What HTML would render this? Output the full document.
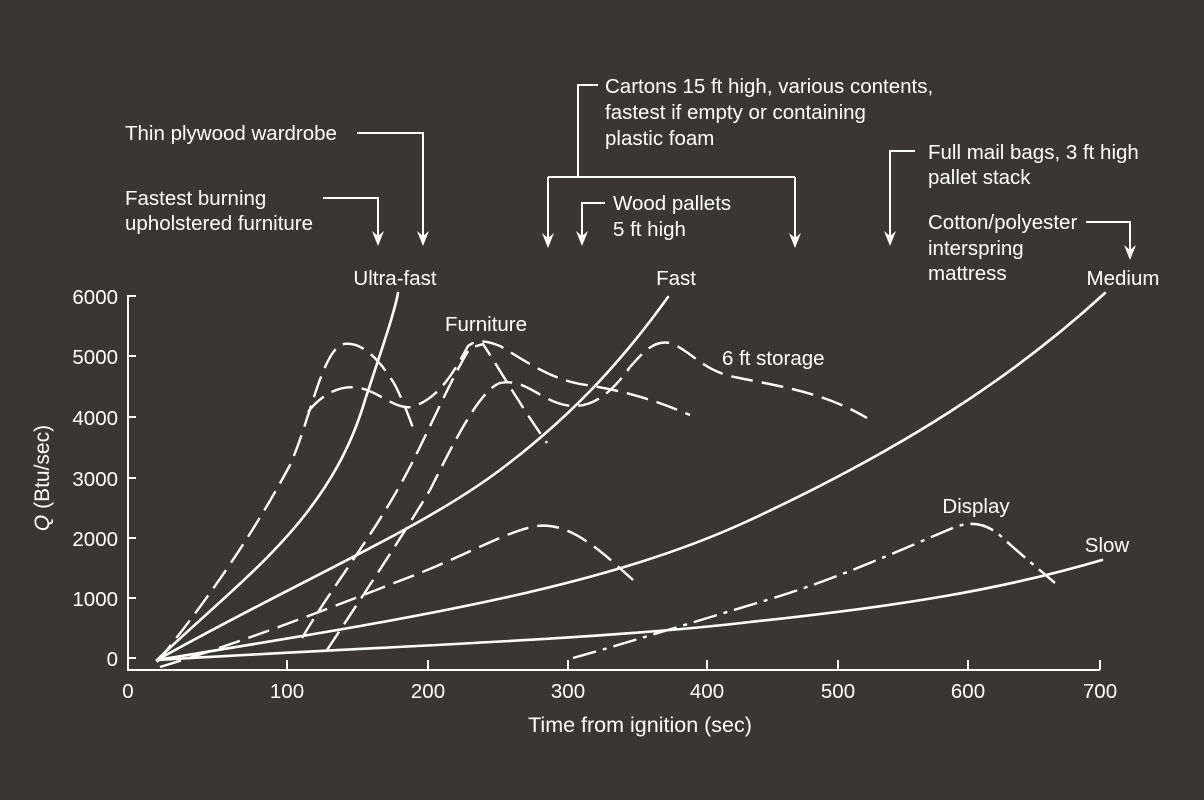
<!DOCTYPE html>
<html><head><meta charset="utf-8"><style>
html,body{margin:0;padding:0;background:#3a3634;}
svg{display:block}
text{font-family:"Liberation Sans",Arial,sans-serif;fill:#fff;font-size:20.5px}
</style></head><body>
<svg width="1204" height="800" viewBox="0 0 1204 800" xmlns="http://www.w3.org/2000/svg">
<rect width="1204" height="800" fill="#3a3634"/>
<g stroke="#fff" stroke-width="2" fill="none">
<path d="M136,296 H128 V670 H1100"/>
<path d="M128,356 h8 M128,417 h8 M128,478 h8 M128,538 h8 M128,598 h8 M128,658 h8"/>
<path d="M287,670 v-10 M428,670 v-10 M568,670 v-10 M707,670 v-10 M838,670 v-10 M968,670 v-10 M1100,670 v-10"/>
</g>
<g stroke="#fff" stroke-width="2.6" fill="none" stroke-linejoin="round" stroke-linecap="round">
<path d="M157,660 C240,580 330,520 365,400 C385,340 395,310 398,293"/>
<path d="M157,660 C300,580 420,530 500,470 C580,410 630,350 668,297"/>
<path d="M157,660 C400,620 600,590 750,520 C900,450 1010,380 1105,293"/>
<path d="M157,660 C350,648 600,640 750,622 C900,606 1000,590 1102,560"/>
</g>
<g stroke="#fff" stroke-width="2.4" fill="none" stroke-linecap="butt" stroke-dasharray="22,9">
<path d="M157,662 C200,610 250,540 290,465 C310,420 320,360 340,345 C360,338 380,360 395,385 C405,405 410,420 415,433"/>
<path d="M308,412 C325,390 345,385 360,388 C380,392 395,410 412,407 C440,398 455,370 468,346 C478,338 490,342 500,346 C530,364 550,378 580,384 C620,390 650,398 690,415"/>
<path d="M302,638 C330,590 370,540 403,480 C425,440 450,380 470,348 L483,344 C500,370 520,405 547,443"/>
<path d="M327,650 C360,600 400,540 430,490 C455,440 480,390 500,383 C525,378 540,400 565,405 C590,410 610,395 630,367 C645,350 655,340 670,343 C690,350 700,368 730,376 C770,385 820,390 867,418"/>
<path d="M160,667 C250,640 350,600 420,573 C470,553 510,530 537,526 C570,522 600,550 633,580"/>
</g>
<path d="M573,658 C620,645 700,620 767,600 C840,578 900,550 955,527 C975,520 990,525 1005,540 C1025,558 1040,570 1055,583" stroke="#fff" stroke-width="2.4" fill="none" stroke-dasharray="24,7,4,7"/>
<g stroke="#fff" stroke-width="2" fill="none">
<path d="M357,133 H423 V236"/>
<path d="M323,198 H378 V236"/>
<path d="M598,85 H578 V177"/>
<path d="M548,177 H795"/>
<path d="M548,177 V238"/>
<path d="M795,177 V238"/>
<path d="M605,203 H582 V236"/>
<path d="M915,151 H890 V236"/>
<path d="M1086,222 H1130 V250"/>
</g>
<g fill="#fff">
<path d="M417,231 L423,236 L429,231 L423,246 Z"/>
<path d="M372,231 L378,236 L384,231 L378,246 Z"/>
<path d="M542,233 L548,238 L554,233 L548,248 Z"/>
<path d="M789,233 L795,238 L801,233 L795,248 Z"/>
<path d="M576,231 L582,236 L588,231 L582,246 Z"/>
<path d="M884,231 L890,236 L896,231 L890,246 Z"/>
<path d="M1124,245 L1130,250 L1136,245 L1130,260 Z"/>
</g>
<text x="125" y="140">Thin plywood wardrobe</text>
<text x="125" y="205">Fastest burning</text>
<text x="125" y="230">upholstered furniture</text>
<text x="605" y="93">Cartons 15 ft high, various contents,</text>
<text x="605" y="119">fastest if empty or containing</text>
<text x="605" y="145">plastic foam</text>
<text x="613" y="210">Wood pallets</text>
<text x="613" y="236">5 ft high</text>
<text x="928" y="159">Full mail bags, 3 ft high</text>
<text x="928" y="184">pallet stack</text>
<text x="928" y="229">Cotton/polyester</text>
<text x="928" y="255">interspring</text>
<text x="928" y="280">mattress</text>
<text x="395" y="285" text-anchor="middle">Ultra-fast</text>
<text x="676" y="285" text-anchor="middle">Fast</text>
<text x="1123" y="285" text-anchor="middle">Medium</text>
<text x="486" y="331" text-anchor="middle">Furniture</text>
<text x="722" y="365">6 ft storage</text>
<text x="976" y="513" text-anchor="middle">Display</text>
<text x="1107" y="552" text-anchor="middle">Slow</text>
<g text-anchor="end">
<text x="118" y="304">6000</text><text x="118" y="364">5000</text><text x="118" y="425">4000</text>
<text x="118" y="486">3000</text><text x="118" y="546">2000</text><text x="118" y="606">1000</text>
<text x="118" y="666">0</text>
</g>
<g text-anchor="middle">
<text x="128" y="698">0</text><text x="287" y="698">100</text><text x="428" y="698">200</text>
<text x="568" y="698">300</text><text x="707" y="698">400</text><text x="838" y="698">500</text>
<text x="968" y="698">600</text><text x="1100" y="698">700</text>
<text x="640" y="732" style="font-size:21.5px">Time from ignition (sec)</text>
</g>
<text transform="translate(49,478) rotate(-90)" text-anchor="middle" style="font-size:21px"><tspan font-style="italic">Q</tspan> (Btu/sec)</text>
</svg>
</body></html>
